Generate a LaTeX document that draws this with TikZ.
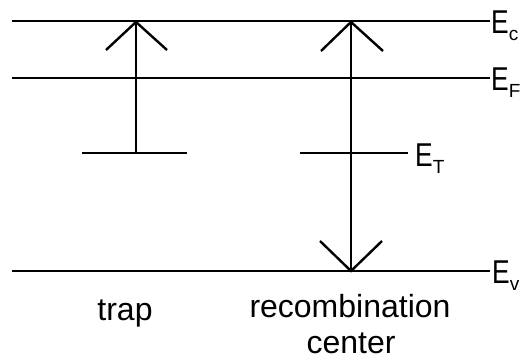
\documentclass[tikz,border=0pt]{standalone}
\usepackage{fontspec}
\setmainfont{Liberation Sans}
\newcommand{\lvl}[1]{\scalebox{0.8}[1]{E}\raisebox{-7pt}{\fontsize{19}{19}\selectfont #1}}
\begin{document}
\begin{tikzpicture}[x=1pt,y=-1pt,
  band/.style={line width=2.6pt},
  tick/.style={line width=2.4pt},
  lab/.style={inner sep=0pt,anchor=base west,font=\fontsize{33}{33}\selectfont},
  captext/.style={inner sep=0pt,anchor=base,font=\fontsize{32}{38}\selectfont}]
\useasboundingbox (0,0) rectangle (522,360);
% band edges and Fermi level
\coordinate (c0) at (12,21);  \coordinate (c1) at (490,21);
\coordinate (f0) at (12,78);  \coordinate (f1) at (490,78);
\coordinate (v0) at (12,271); \coordinate (v1) at (490,271);
\draw[band] (c0) -- (c1);
\draw[band] (f0) -- (f1);
\draw[band] (v0) -- (v1);
\node[lab] (lc) at (491,33) {\lvl{c}};
\node[lab] (lf) at (491,90) {\lvl{F}};
\node[lab] (lv) at (492,283) {\lvl{v}};
% trap level with emission to the conduction band
\coordinate (t0) at (82,153); \coordinate (t1) at (187,153);
\coordinate (tm) at (136,153); \coordinate (tc) at (136,22);
\coordinate (tl) at (106,50); \coordinate (tr) at (167,50);
\draw[band] (t0) -- (t1);
\draw[tick] (tm) -- (tc);
\draw[tick] (tl) -- (tc) -- (tr);
% recombination center level
\coordinate (r0) at (300,153); \coordinate (r1) at (408,153);
\draw[band] (r0) -- (r1);
\node[lab] (lt) at (415,166) {\lvl{T}};
\coordinate (rc) at (351,22); \coordinate (rv) at (351,271);
\coordinate (ul) at (321,51); \coordinate (ur) at (383,51);
\coordinate (dl) at (320,241); \coordinate (dr) at (382,241);
\draw[tick] (rc) -- (rv);
\draw[tick] (ul) -- (rc) -- (ur);
\draw[tick] (dl) -- (rv) -- (dr);
% captions
\node[captext] (trap) at (125,320) {trap};
\node[captext] (rec1) at (350,317) {recombination};
\node[captext] (rec2) at (351,353) {center};
\end{tikzpicture}
\end{document}
